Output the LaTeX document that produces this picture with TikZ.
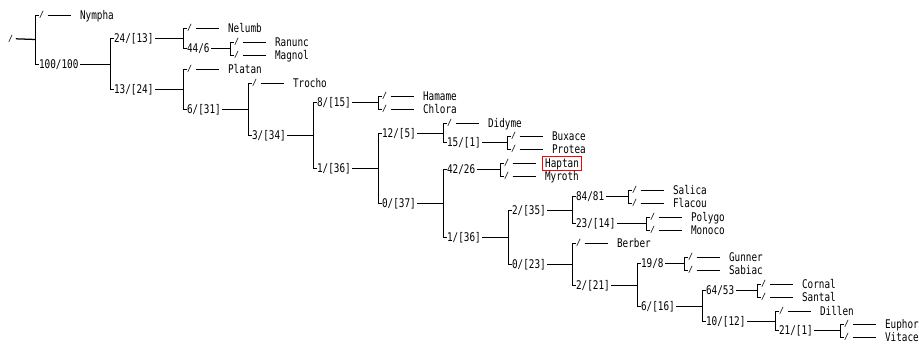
\documentclass[tikz,border=0pt]{standalone}
\usepackage{fontspec}
\usepackage{graphicx}
\newfontfamily\monofnt{DejaVu Sans Mono}
\newcommand\narrowtxt[1]{\scalebox{0.78}[1]{#1}}
\tikzset{
  ilab/.style={font=\monofnt\fontsize{12}{13}\selectfont, inner sep=0pt, anchor=west, text height=8.75bp, text depth=0pt},
  leaflab/.style={ilab},
  slashmk/.style={font=\monofnt\fontsize{8.5}{9}\selectfont, inner sep=0pt, anchor=base west},
  redbox/.style={draw=red, line width=1.4bp, inner xsep=2.5bp, inner ysep=2.6bp, xshift=-2.5bp}
}
% internal node: name, label, x of parent bar, y, target junction
\newcommand\inode[5]{%
  \node[ilab] (#1) at (#3+3,#4) {\narrowtxt{#2}};
  \draw (#3,#4) -- (#1.west);
  \draw ([xshift=1bp]#1.east) -- (#5);
}
% leaf: [opts] name, text, x of parent bar, y
\newcommand\leafn[5][]{%
  \node[slashmk] (#2s) at (#4+3,#5+2) {/};
  \draw (#4,#5) -- (#4+3,#5);
  \node[leaflab,#1] (#2) at (#4+44,#5) {\narrowtxt{#3}};
  \draw (#4+12,#5) -- (#4+35,#5);
}
\begin{document}
\begin{tikzpicture}[x=1bp,y=-1bp,line width=1.25bp]
\fill[white] (0,0) rectangle (919,343);
\useasboundingbox (0,0) rectangle (919,343);
\begin{scope}[shift={(0.5,0.5)}]
% junction coordinates
\coordinate (V1) at (35,39);
\coordinate (V2) at (110,64);
\coordinate (V3) at (183,38);
\coordinate (V4) at (230,48);
\coordinate (V5) at (183,89);
\coordinate (V6) at (248,109);
\coordinate (V7) at (313,135);
\coordinate (V8) at (378,102);
\coordinate (V9) at (378,168);
\coordinate (V10) at (443,133);
\coordinate (V11) at (507,142);
\coordinate (V12) at (443,203);
\coordinate (V13) at (500,169);
\coordinate (V14) at (508,237);
\coordinate (V15) at (572,210);
\coordinate (V16) at (628,196);
\coordinate (V17) at (646,223);
\coordinate (V18) at (572,264);
\coordinate (V19) at (637,285);
\coordinate (V20) at (684,263);
\coordinate (V21) at (702,306);
\coordinate (V22) at (757,290);
\coordinate (V23) at (775,321);
\coordinate (V24) at (840,330);
% vertical bars
\begin{scope}[line cap=rect]
\draw (35,15) -- (35,64);
\draw (110,38) -- (110,89);
\draw (183,28) -- (183,48);
\draw (230,42) -- (230,55);
\draw (183,69) -- (183,109);
\draw (248,83) -- (248,135);
\draw (313,102) -- (313,168);
\draw (378,96) -- (378,109);
\draw (378,133) -- (378,203);
\draw (443,123) -- (443,142);
\draw (507,136) -- (507,149);
\draw (443,169) -- (443,237);
\draw (500,163) -- (500,176);
\draw (508,210) -- (508,264);
\draw (572,196) -- (572,223);
\draw (628,190) -- (628,203);
\draw (646,217) -- (646,230);
\draw (572,243) -- (572,285);
\draw (637,263) -- (637,306);
\draw (684,257) -- (684,270);
\draw (702,290) -- (702,321);
\draw (757,284) -- (757,297);
\draw (775,311) -- (775,330);
\draw (840,324) -- (840,337);
\end{scope}
% root
\node[slashmk] (root) at (7,41) {/};
\draw ([xshift=2bp]root.east) -- (V1);
% internal labels
\inode{n1}{100/100}{35}{64}{V2}
\inode{n2}{24/[13]}{110}{38}{V3}
\inode{n3}{13/[24]}{110}{89}{V5}
\inode{n4}{44/6}{183}{48}{V4}
\inode{n5}{6/[31]}{183}{109}{V6}
\inode{n6}{3/[34]}{248}{135}{V7}
\inode{n7}{8/[15]}{313}{102}{V8}
\inode{n8}{1/[36]}{313}{168}{V9}
\inode{n9}{12/[5]}{378}{133}{V10}
\inode{n10}{0/[37]}{378}{203}{V12}
\inode{n11}{15/[1]}{443}{142}{V11}
\inode{n12}{42/26}{443}{169}{V13}
\inode{n13}{1/[36]}{443}{237}{V14}
\inode{n14}{2/[35]}{508}{210}{V15}
\inode{n15}{0/[23]}{508}{264}{V18}
\inode{n16}{84/81}{572}{196}{V16}
\inode{n17}{23/[14]}{572}{223}{V17}
\inode{n18}{2/[21]}{572}{285}{V19}
\inode{n19}{19/8}{637}{263}{V20}
\inode{n20}{6/[16]}{637}{306}{V21}
\inode{n21}{64/53}{702}{290}{V22}
\inode{n22}{10/[12]}{702}{321}{V23}
\inode{n23}{21/[1]}{775}{330}{V24}
% leaves
\leafn{nympha}{Nympha}{35}{15}
\leafn{nelumb}{Nelumb}{183}{28}
\leafn{ranunc}{Ranunc}{230}{42}
\leafn{magnol}{Magnol}{230}{55}
\leafn{platan}{Platan}{183}{69}
\leafn{trocho}{Trocho}{248}{83}
\leafn{hamame}{Hamame}{378}{96}
\leafn{chlora}{Chlora}{378}{109}
\leafn{didyme}{Didyme}{443}{123}
\leafn{buxace}{Buxace}{507}{136}
\leafn{protea}{Protea}{507}{149}
\leafn[redbox]{haptan}{Haptan}{500}{163}
\leafn{myroth}{Myroth}{500}{176}
\leafn{salica}{Salica}{628}{190}
\leafn{flacou}{Flacou}{628}{203}
\leafn{polygo}{Polygo}{646}{217}
\leafn{monoco}{Monoco}{646}{230}
\leafn{berber}{Berber}{572}{243}
\leafn{gunner}{Gunner}{684}{257}
\leafn{sabiac}{Sabiac}{684}{270}
\leafn{cornal}{Cornal}{757}{284}
\leafn{santal}{Santal}{757}{297}
\leafn{dillen}{Dillen}{775}{311}
\leafn{euphor}{Euphor}{840}{324}
\leafn{vitace}{Vitace}{840}{337}
\end{scope}
\end{tikzpicture}
\end{document}
